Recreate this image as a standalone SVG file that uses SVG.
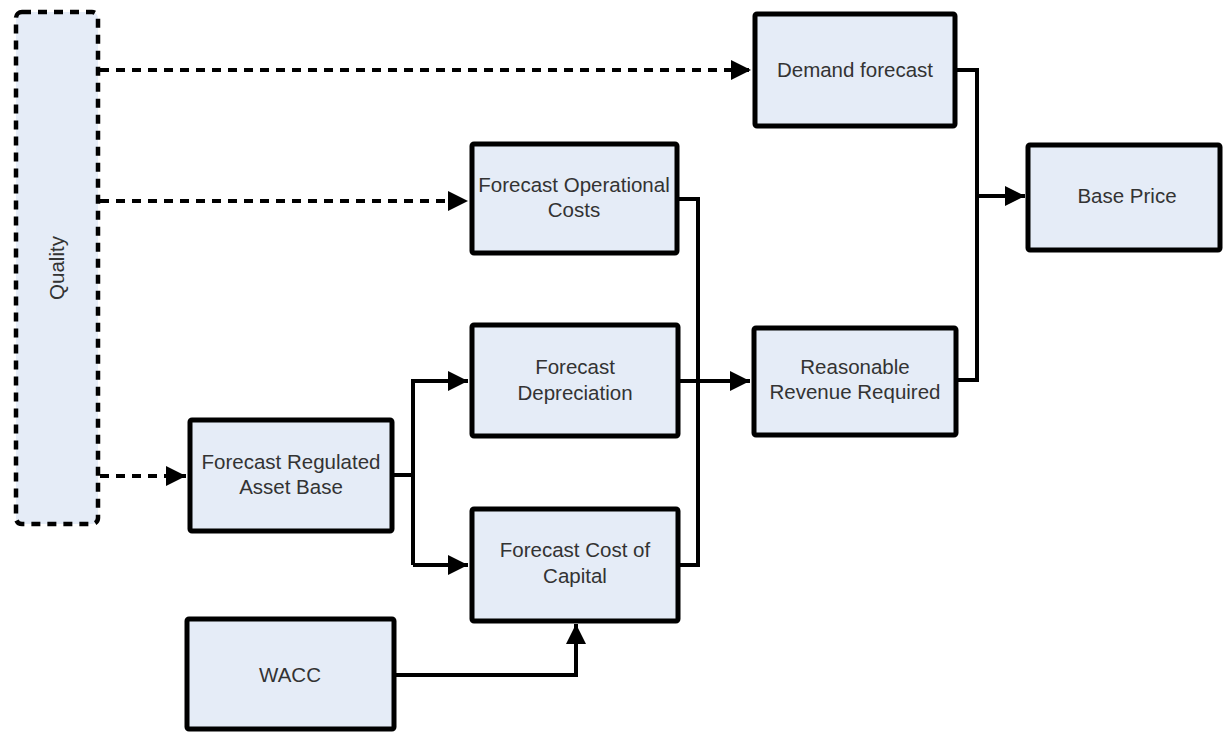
<svg xmlns="http://www.w3.org/2000/svg" width="1225" height="732" viewBox="0 0 1225 732">
<style>
.box{fill:#E5ECF7;stroke:#000;stroke-width:5}
.q{fill:#E5ECF7;stroke:#000;stroke-width:4.5;stroke-dasharray:9 7}
.t{font-family:"Liberation Sans",Arial,sans-serif;font-size:20.5px;fill:#333;text-anchor:middle}
.c{fill:none;stroke:#000;stroke-width:4}
.d{fill:none;stroke:#000;stroke-width:4;stroke-dasharray:9 7}
</style>
<defs>
<marker id="ah" markerUnits="userSpaceOnUse" markerWidth="22" markerHeight="22" refX="20" refY="10" orient="auto">
<path d="M0,0 L20,10 L0,20 Z" fill="#000"/>
</marker>
</defs>
<rect width="1225" height="732" fill="#fff"/>
<g id="connectors">
<path class="d" d="M100,70 H751" marker-end="url(#ah)"/>
<path class="d" d="M100,201 H468" marker-end="url(#ah)"/>
<path class="d" d="M100,476 H186" marker-end="url(#ah)"/>
<path class="c" d="M394,475 H413"/>
<path class="c" d="M413,565 V381 H468" marker-end="url(#ah)"/>
<path class="c" d="M413,565 H468" marker-end="url(#ah)"/>
<path class="c" d="M679,199 H698 V565 H680"/>
<path class="c" d="M680,381 H750" marker-end="url(#ah)"/>
<path class="c" d="M396,675 H576 V624" marker-end="url(#ah)"/>
<path class="c" d="M957,70 H977 V380 H958"/>
<path class="c" d="M977,196 H1025" marker-end="url(#ah)"/>
</g>
<g id="quality">
<rect class="q" x="16" y="12" width="82" height="512" rx="6"/>
<text class="t" transform="translate(64,268) rotate(-90)">Quality</text>
</g>
<g id="demand">
<rect class="box" x="755" y="14" width="200" height="112" rx="2"/>
<text class="t" x="855" y="77">Demand forecast</text>
</g>
<g id="foc">
<rect class="box" x="472" y="144" width="205" height="109" rx="2"/>
<text class="t" x="574" y="192">Forecast Operational</text>
<text class="t" x="574" y="217">Costs</text>
</g>
<g id="fd">
<rect class="box" x="472" y="325" width="206" height="111" rx="2"/>
<text class="t" x="575" y="374">Forecast</text>
<text class="t" x="575" y="400">Depreciation</text>
</g>
<g id="fcc">
<rect class="box" x="472" y="509" width="206" height="112" rx="2"/>
<text class="t" x="575" y="557">Forecast Cost of</text>
<text class="t" x="575" y="583">Capital</text>
</g>
<g id="rrr">
<rect class="box" x="754" y="328" width="202" height="107" rx="2"/>
<text class="t" x="855" y="374">Reasonable</text>
<text class="t" x="855" y="399">Revenue Required</text>
</g>
<g id="baseprice">
<rect class="box" x="1028" y="145" width="192" height="105" rx="2"/>
<text class="t" x="1127" y="203">Base Price</text>
</g>
<g id="frab">
<rect class="box" x="190" y="420" width="202" height="111" rx="2"/>
<text class="t" x="291" y="469">Forecast Regulated</text>
<text class="t" x="291" y="494">Asset Base</text>
</g>
<g id="wacc">
<rect class="box" x="187" y="619" width="207" height="110" rx="2"/>
<text class="t" x="290" y="682">WACC</text>
</g>
</svg>
